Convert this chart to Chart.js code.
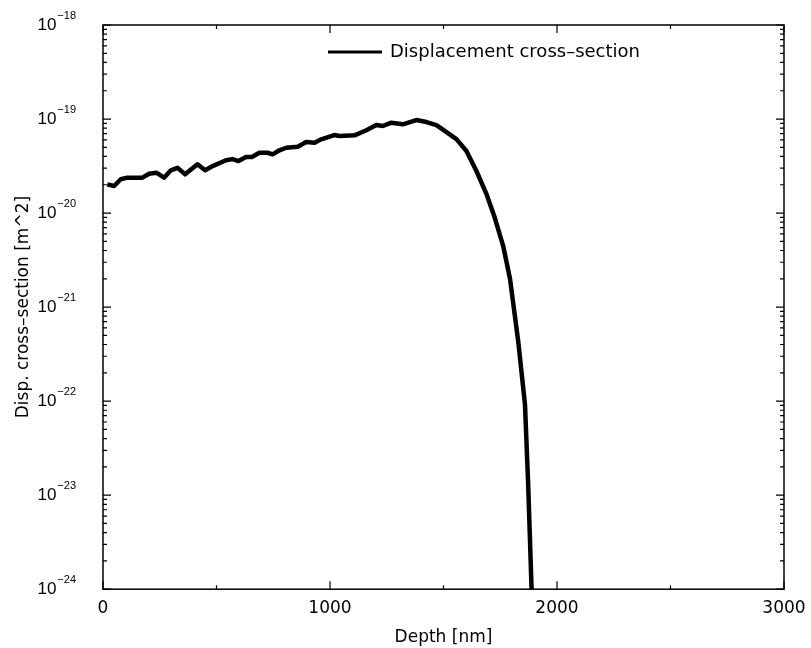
<!DOCTYPE html>
<html>
<head>
<meta charset="utf-8">
<script src="https://cdn.jsdelivr.net/npm/chart.js@4/dist/chart.umd.min.js"></script>
<style>
  html, body { margin: 0; padding: 0; background: #fff; }
</style>
</head>
<body>
<canvas id="myChart" width="811" height="648"></canvas>
<script>
// valores (profundidade em nm, secao em m^2)
var profundidade = [19, 49, 78, 107, 140, 174, 203, 235, 269, 299, 328, 362, 416, 450, 483,
  542, 570, 597, 630, 656, 689, 725, 747, 777, 807, 858, 895, 932, 961, 1019, 1042,
  1108, 1160, 1204, 1233, 1270, 1321, 1380, 1425, 1469, 1513, 1557, 1601, 1645, 1690,
  1726, 1763, 1793, 1829, 1859, 1873, 1888];
var secao = [2.02e-20, 1.94e-20, 2.29e-20, 2.38e-20, 2.38e-20, 2.38e-20, 2.62e-20, 2.69e-20,
  2.38e-20, 2.85e-20, 3.03e-20, 2.58e-20, 3.30e-20, 2.85e-20, 3.16e-20,
  3.64e-20, 3.75e-20, 3.57e-20, 3.94e-20, 3.94e-20, 4.38e-20, 4.38e-20, 4.21e-20,
  4.65e-20, 4.95e-20, 5.07e-20, 5.69e-20, 5.60e-20, 6.08e-20, 6.76e-20, 6.59e-20,
  6.71e-20, 7.59e-20, 8.63e-20, 8.43e-20, 9.14e-20, 8.79e-20, 9.75e-20, 9.29e-20,
  8.63e-20, 7.27e-20, 6.12e-20, 4.57e-20, 2.80e-20, 1.58e-20,
  8.9e-21, 4.46e-21, 2.0e-21, 4.35e-22, 9.2e-23, 1.3e-23, 1e-24];
var ticksX = [0, 1000, 2000, 3000];
var ticksXmenor = [500, 1500, 2500];
var expoentesY = [-24, -23, -22, -21, -20, -19, -18];
var legenda = "Displacement cross\u2013section";
var tituloX = "Depth [nm]";
var tituloY = "Disp. cross\u2013section [m^2]";

var fonte = "'DejaVu Sans', sans-serif";
var fonteNum = "'Liberation Sans', Arial, sans-serif";

var pontos = [];
for (var i = 0; i < profundidade.length; i++) {
  pontos.push({ x: profundidade[i], y: secao[i] });
}

// moldura, ticks para dentro, rotulos 10^n e legenda
var moldura = {
  id: "moldura",
  afterDraw: function (chart) {
    var ctx = chart.ctx;
    var area = chart.chartArea;
    var sx = chart.scales.x;
    var sy = chart.scales.y;
    ctx.save();
    ctx.strokeStyle = "#000";
    ctx.lineWidth = 1.5;
    ctx.strokeRect(area.left, area.top, area.right - area.left, area.bottom - area.top);

    ctx.lineWidth = 1.2;
    ctx.beginPath();
    ticksX.forEach(function (v) {
      var px = sx.getPixelForValue(v);
      ctx.moveTo(px, area.bottom); ctx.lineTo(px, area.bottom - 8);
      ctx.moveTo(px, area.top); ctx.lineTo(px, area.top + 8);
    });
    ticksXmenor.forEach(function (v) {
      var px = sx.getPixelForValue(v);
      ctx.moveTo(px, area.bottom); ctx.lineTo(px, area.bottom - 4);
      ctx.moveTo(px, area.top); ctx.lineTo(px, area.top + 4);
    });
    expoentesY.forEach(function (e, k) {
      var py = sy.getPixelForValue(Math.pow(10, e));
      ctx.moveTo(area.left, py); ctx.lineTo(area.left + 8, py);
      ctx.moveTo(area.right, py); ctx.lineTo(area.right - 8, py);
      if (k < expoentesY.length - 1) {
        for (var m = 2; m <= 9; m++) {
          var pm = sy.getPixelForValue(m * Math.pow(10, e));
          ctx.moveTo(area.left, pm); ctx.lineTo(area.left + 4, pm);
          ctx.moveTo(area.right, pm); ctx.lineTo(area.right - 4, pm);
        }
      }
    });
    ctx.stroke();

    // rotulos do eixo y
    ctx.fillStyle = "#000";
    ctx.textBaseline = "middle";
    expoentesY.forEach(function (e) {
      var py = sy.getPixelForValue(Math.pow(10, e));
      var txtExp = "\u2212" + Math.abs(e);
      ctx.font = "11px " + fonteNum;
      var wExp = ctx.measureText(txtExp).width;
      ctx.textAlign = "right";
      ctx.fillText(txtExp, area.left - 27, py - 9);
      ctx.font = "17px " + fonteNum;
      ctx.fillText("10", area.left - 28 - wExp, py);
    });

    // legenda
    ctx.lineWidth = 3;
    ctx.beginPath();
    ctx.moveTo(328, 52);
    ctx.lineTo(382, 52);
    ctx.stroke();
    ctx.font = "18px " + fonte;
    ctx.textAlign = "left";
    ctx.fillText(legenda, 390, 52);
    ctx.restore();
  }
};

var ctx = document.getElementById("myChart");
var config = {
  type: "line",
  data: {
    datasets: [
      {
        label: legenda,
        data: pontos,
        borderColor: "#000",
        borderWidth: 4.5,
        borderJoinStyle: "round",
        pointRadius: 0,
        tension: 0,
        fill: false,
      },
    ],
  },
  options: {
    responsive: false,
    animation: false,
    devicePixelRatio: 1,
    layout: { padding: { left: 3, top: 25, right: 27, bottom: 0 } },
    plugins: {
      legend: { display: false },
      tooltip: { enabled: false },
    },
    scales: {
      x: {
        type: "linear",
        min: 0,
        max: 3000,
        grid: { display: false, drawTicks: false },
        border: { display: false },
        afterFit: function (escala) {
          escala.paddingRight = 0;
        },
        ticks: {
          stepSize: 1000,
          padding: 9,
          color: "#000",
          font: { family: fonte, size: 17 },
          maxRotation: 0,
          callback: function (v) { return String(v); },
        },
        title: {
          display: true,
          text: tituloX,
          color: "#000",
          font: { family: fonte, size: 17 },
          padding: { top: 0, bottom: 0 },
        },
      },
      y: {
        type: "logarithmic",
        min: 1e-24,
        max: 1e-18,
        grid: { display: false, drawTicks: false },
        border: { display: false },
        ticks: { display: false },
        title: {
          display: true,
          text: tituloY,
          color: "#000",
          font: { family: fonte, size: 17 },
          padding: { top: 10, bottom: 69.6 },
        },
      },
    },
  },
  plugins: [moldura],
};

var myChart = new Chart(ctx, config);
</script>
</body>
</html>
